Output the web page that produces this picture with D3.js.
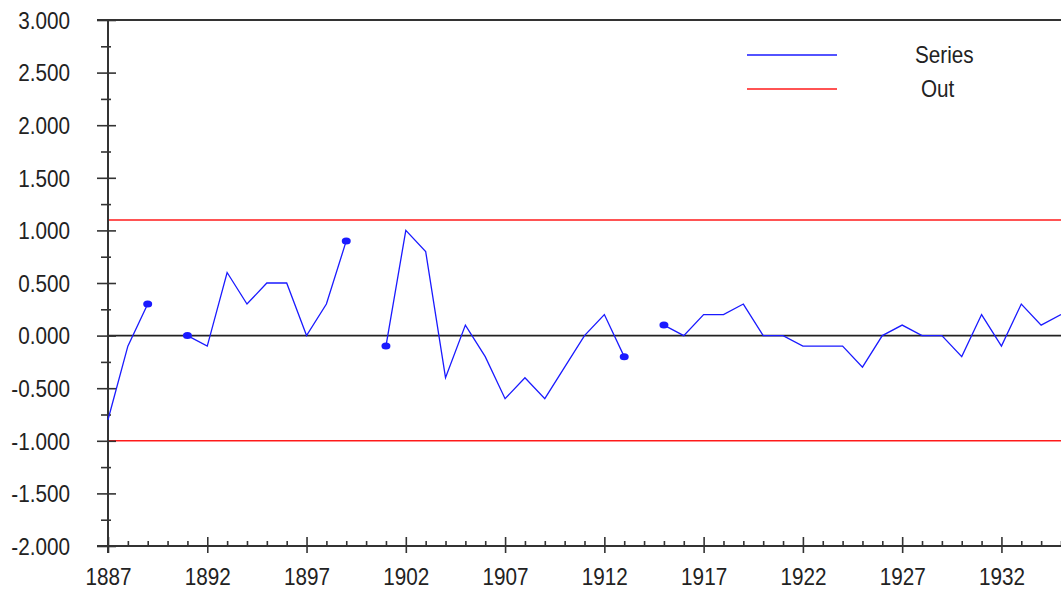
<!DOCTYPE html>
<html>
<head>
<meta charset="utf-8">
<script src="https://cdn.jsdelivr.net/npm/d3@7"></script>
<style>
  body { margin: 0; background: #fff; }
  svg { display: block; }
  text { font-family: "Liberation Sans", Arial, sans-serif; fill: #222; }
</style>
</head>
<body>
<svg width="1061" height="589"></svg>
<script>
// valores (null = sem dado)
const years = d3.range(1887, 1936);
const values = [
  -0.8, -0.1, 0.3, null, 0.0, -0.1, 0.6, 0.3, 0.5, 0.5,
  0.0, 0.3, 0.9, null, -0.1, 1.0, 0.8, -0.4, 0.1, -0.2,
  -0.6, -0.4, -0.6, -0.3, 0.0, 0.2, -0.2, null, 0.1, 0.0,
  0.2, 0.2, 0.3, 0.0, 0.0, -0.1, -0.1, -0.1, -0.3, 0.0,
  0.1, 0.0, 0.0, -0.2, 0.2, -0.1, 0.3, 0.1, 0.2
];
const limits = [1.1, -1.0];
const yTicks = [3, 2.5, 2, 1.5, 1, 0.5, 0, -0.5, -1, -1.5, -2];
const xTicks = [1887, 1892, 1897, 1902, 1907, 1912, 1917, 1922, 1927, 1932];
const legendNames = ["Series", "Out"];
const legendColors = ["#1a1aff", "#ff1a1a"];

const data = years.map((yr, i) => ({ yr: yr, v: values[i] }));

const svg = d3.select("svg");
const mLeft = 108, mRight = 1061, mTop = 20, mBottom = 546;

const x = d3.scaleLinear().domain([1887, 1935]).range([mLeft, mRight]);
const y = d3.scaleLinear().domain([-2, 3]).range([mBottom, mTop]);

const fmt = v => v.toFixed(3);

// moldura superior
svg.append("line")
    .attr("x1", mLeft - 11).attr("x2", mRight)
    .attr("y1", y(3)).attr("y2", y(3))
    .attr("stroke", "#333").attr("stroke-width", 2);

// linha do zero
svg.append("line")
    .attr("x1", mLeft).attr("x2", mRight)
    .attr("y1", y(0)).attr("y2", y(0))
    .attr("stroke", "#222").attr("stroke-width", 1.6);

// limites (Out)
svg.selectAll(".limit")
  .data(limits)
  .enter().append("line")
    .attr("class", "limit")
    .attr("x1", mLeft).attr("x2", mRight)
    .attr("y1", d => y(d)).attr("y2", d => y(d))
    .attr("stroke", legendColors[1]).attr("stroke-width", 1.5);

// eixo y - tics menores
const yMinor = svg.append("g")
    .attr("transform", "translate(" + mLeft + ",0)")
    .call(d3.axisLeft(y)
      .tickValues(d3.range(-1.75, 3, 0.5))
      .tickSize(7)
      .tickFormat(""));
yMinor.select(".domain").remove();
yMinor.selectAll("line").attr("x1", 3).attr("stroke", "#333").attr("stroke-width", 1.6);

// eixo y - tics maiores
const yAxis = svg.append("g")
    .attr("transform", "translate(" + mLeft + ",0)")
    .call(d3.axisLeft(y)
      .tickValues(yTicks)
      .tickSize(11)
      .tickFormat(fmt));
yAxis.select(".domain").remove();
yAxis.selectAll("line").attr("x1", 8).attr("stroke", "#333").attr("stroke-width", 1.6);
yAxis.selectAll("text")
    .attr("x", 0).attr("dy", "0.36em")
    .attr("transform", "translate(-38,0) scale(0.9,1)")
    .attr("font-size", 23)
    .attr("fill", "#222")
    .style("font-family", "'Liberation Sans', Arial, sans-serif");

// eixo x - tics menores
const xMinor = svg.append("g")
    .attr("transform", "translate(0," + mBottom + ")")
    .call(d3.axisTop(x)
      .tickValues(years.filter(d => (d - 1887) % 5 !== 0))
      .tickSize(5)
      .tickFormat(""));
xMinor.select(".domain").remove();
xMinor.selectAll("line").attr("stroke", "#333").attr("stroke-width", 1.6);

// eixo x - tics maiores
const xAxis = svg.append("g")
    .attr("transform", "translate(0," + mBottom + ")")
    .call(d3.axisBottom(x)
      .tickValues(xTicks)
      .tickSize(7)
      .tickFormat(d => d));
xAxis.select(".domain").remove();
xAxis.selectAll("line").attr("y1", -9).attr("stroke", "#333").attr("stroke-width", 1.6);
xAxis.selectAll("text")
    .attr("y", 39).attr("dy", 0)
    .attr("transform", "scale(0.9,1)")
    .attr("font-size", 23)
    .attr("fill", "#222")
    .style("font-family", "'Liberation Sans', Arial, sans-serif");

// linhas dos eixos
svg.append("line")
    .attr("x1", mLeft).attr("x2", mLeft)
    .attr("y1", mTop).attr("y2", mBottom + 7)
    .attr("stroke", "#333").attr("stroke-width", 2);
svg.append("line")
    .attr("x1", mLeft - 11).attr("x2", mRight)
    .attr("y1", mBottom).attr("y2", mBottom)
    .attr("stroke", "#333").attr("stroke-width", 2);

// série
const line = d3.line()
    .defined(d => d.v != null)
    .x(d => x(d.yr))
    .y(d => y(d.v));

svg.append("path")
    .datum(data)
    .attr("fill", "none")
    .attr("stroke", legendColors[0])
    .attr("stroke-width", 1.3)
    .attr("d", line);

// pontos nas pontas vizinhas das lacunas
const dots = data.filter((d, i) => d.v != null &&
    ((i > 0 && values[i - 1] == null) || (i < values.length - 1 && values[i + 1] == null)));

svg.selectAll(".dot")
  .data(dots)
  .enter().append("ellipse")
    .attr("class", "dot")
    .attr("cx", d => x(d.yr))
    .attr("cy", d => y(d.v))
    .attr("rx", 4.5).attr("ry", 3.5)
    .attr("fill", legendColors[0]);

// legenda
const lg = svg.append("g");
lg.selectAll("line")
  .data(legendNames)
  .enter().append("line")
    .attr("x1", 747).attr("x2", 837)
    .attr("y1", (d, i) => 55 + i * 34).attr("y2", (d, i) => 55 + i * 34)
    .attr("stroke", (d, i) => legendColors[i])
    .attr("stroke-width", 1.5);
lg.selectAll("text")
  .data(legendNames)
  .enter().append("text")
    .attr("transform", (d, i) => "translate(" + (i ? 921 : 915) + "," + (63 + i * 34) + ") scale(0.9,1)")
    .attr("font-size", 23)
    .text(d => d);
</script>
</body>
</html>
